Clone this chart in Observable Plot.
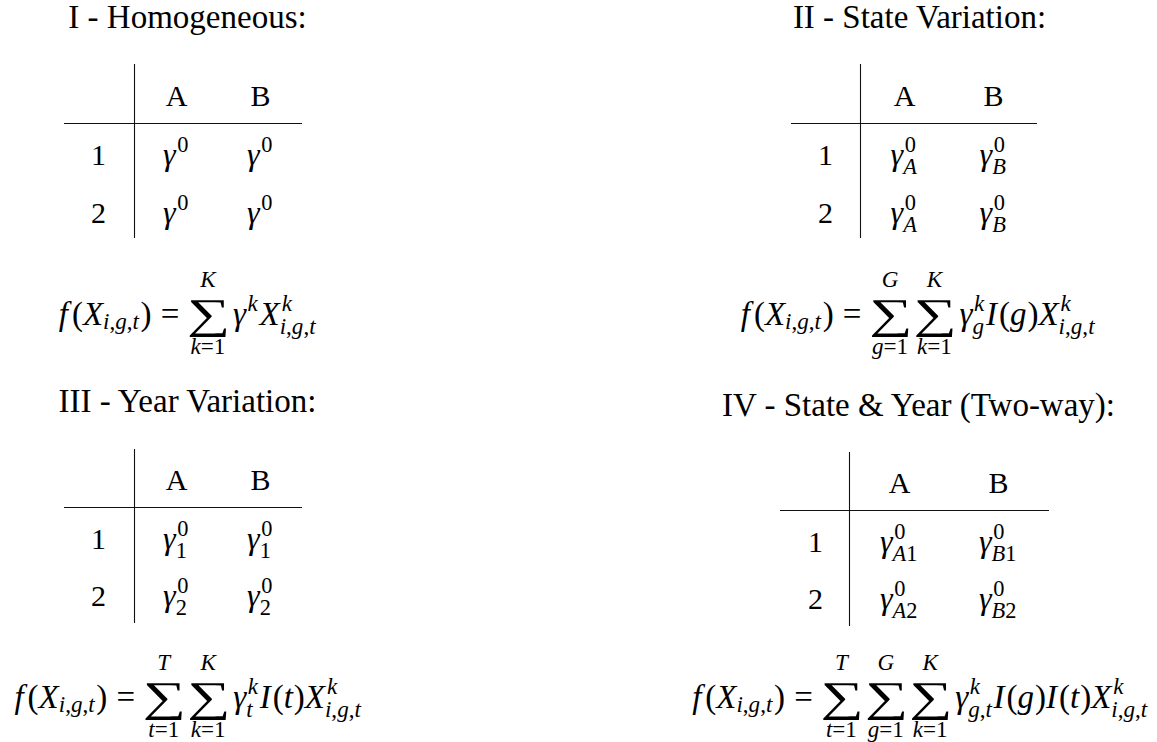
<!DOCTYPE html>
<html><head><meta charset="utf-8">
<script src="https://cdn.jsdelivr.net/npm/d3@7"></script>
<script src="https://cdn.jsdelivr.net/npm/@observablehq/plot@0.6"></script>
<style>html,body{margin:0;padding:0;background:#fff;}</style>
</head><body><div id="chart"></div>
<script>
// ---------------- data ----------------
const panelTitles = ["I - Homogeneous:", "II - State Variation:", "III - Year Variation:", "IV - State & Year (Two-way):"];
const states = ["A", "B"];
const years = ["1", "2"];
const cellsHomogeneous = [["$\\gamma^{0}$", "$\\gamma^{0}$"], ["$\\gamma^{0}$", "$\\gamma^{0}$"]];
const cellsState = [["$\\gamma^{0}_{A}$", "$\\gamma^{0}_{B}$"], ["$\\gamma^{0}_{A}$", "$\\gamma^{0}_{B}$"]];
const cellsYear = [["$\\gamma^{0}_{1}$", "$\\gamma^{0}_{1}$"], ["$\\gamma^{0}_{2}$", "$\\gamma^{0}_{2}$"]];
const cellsTwoWay = [["$\\gamma^{0}_{A1}$", "$\\gamma^{0}_{B1}$"], ["$\\gamma^{0}_{A2}$", "$\\gamma^{0}_{B2}$"]];
const formulas = [
  "$$f(X_{i,g,t}) = \\sum_{k=1}^{K} \\gamma^{k} X^{k}_{i,g,t}$$",
  "$$f(X_{i,g,t}) = \\sum_{g=1}^{G} \\sum_{k=1}^{K} \\gamma^{k}_{g} I(g) X^{k}_{i,g,t}$$",
  "$$f(X_{i,g,t}) = \\sum_{t=1}^{T} \\sum_{k=1}^{K} \\gamma^{k}_{t} I(t) X^{k}_{i,g,t}$$",
  "$$f(X_{i,g,t}) = \\sum_{t=1}^{T} \\sum_{g=1}^{G} \\sum_{k=1}^{K} \\gamma^{k}_{g,t} I(g) I(t) X^{k}_{i,g,t}$$"
];

// ---------------- layout (positions, separate from data) ----------------
const panelLayout = [
  {cx: 187, titleY: 27, vx: 134, vy1: 64, vy2: 238, hy: 123, hx1: 64, hx2: 302, colX: [98, 176, 260], rowY: [105, 164, 222], fcx: 187.5, fy: 324},
  {cx: 919, titleY: 27, vx: 860, vy1: 64, vy2: 238, hy: 123, hx1: 791, hx2: 1037, colX: [825, 904, 993], rowY: [105, 164, 222], fcx: 918, fy: 324},
  {cx: 187, titleY: 411.5, vx: 134, vy1: 449, vy2: 623, hy: 507, hx1: 64, hx2: 302, colX: [98, 176, 260], rowY: [489, 548, 605], fcx: 188, fy: 707},
  {cx: 918, titleY: 415, vx: 849, vy1: 452, vy2: 626, hy: 510, hx1: 780, hx2: 1049, colX: [815, 899, 998], rowY: [492, 551, 608], fcx: 920, fy: 707}
];
const FAMILY = '"Liberation Serif"';
const TITLE_SIZE = 33, TABLE_SIZE = 30, INLINE_SIZE = 32, DISPLAY_SIZE = 33;
const INK = "#111";

const panelCells = [cellsHomogeneous, cellsState, cellsYear, cellsTwoWay];
const titleRows = panelTitles.map((t, p) => ({text: t, x: panelLayout[p].cx, y: panelLayout[p].titleY}));
const headerRows = panelLayout.flatMap(L => states.map((s, c) => ({text: s, x: L.colX[c + 1], y: L.rowY[0]})));
const rowLabelRows = panelLayout.flatMap(L => years.map((yr, r) => ({text: yr, x: L.colX[0], y: L.rowY[r + 1]})));
const cellRows = panelLayout.flatMap((L, p) => panelCells[p].flatMap((row, r) => row.map((v, c) => ({text: v, x: L.colX[c + 1], y: L.rowY[r + 1]}))));
const formulaRows = formulas.map((f, p) => ({text: f, x: panelLayout[p].fcx, y: panelLayout[p].fy}));
const vRules = panelLayout.map(L => ({x: L.vx, y1: L.vy1, y2: L.vy2}));
const hRules = panelLayout.map(L => ({y: L.hy, x1: L.hx1, x2: L.hx2}));

const chart = Plot.plot({
  width: 1157, height: 742, margin: 0,
  x: {domain: [0, 1157], range: [0, 1157], axis: null},
  y: {domain: [0, 742], range: [0, 742], axis: null},
  style: {fontFamily: FAMILY, background: "white", color: "black"},
  marks: [
    Plot.ruleX(vRules, {x: "x", y1: "y1", y2: "y2", stroke: INK, strokeWidth: 1.1}),
    Plot.ruleY(hRules, {y: "y", x1: "x1", x2: "x2", stroke: INK, strokeWidth: 1.1}),
    Plot.text(titleRows, {x: "x", y: "y", text: "text", fontSize: TITLE_SIZE, lineAnchor: "bottom", fill: "black"}),
    Plot.text(headerRows, {x: "x", y: "y", text: "text", fontSize: TABLE_SIZE, lineAnchor: "bottom", fill: "black"}),
    Plot.text(rowLabelRows, {x: "x", y: "y", text: "text", fontSize: TABLE_SIZE, lineAnchor: "bottom", fill: "black"}),
    Plot.text(cellRows, {x: "x", y: "y", text: "text", fontSize: INLINE_SIZE, lineAnchor: "bottom", fill: "black"}),
    Plot.text(formulaRows, {x: "x", y: "y", text: "text", fontSize: DISPLAY_SIZE, lineAnchor: "bottom", fill: "black"})
  ]
});
document.getElementById("chart").append(chart);

// ---------------- tiny math typesetter (turns $...$ texts into tspans) ----------------
const ctx = document.createElement("canvas").getContext("2d");
function meas(t, size, italic) { ctx.font = `${italic ? "italic " : ""}${size}px ${FAMILY}`; return ctx.measureText(t); }
const ITAL = {f: 0.12, X: 0.06, I: 0.06, "γ": 0.05, K: 0.05, G: 0.02, T: 0.08};
function parse(s) {
  const nodes = []; let i = 0;
  const group = () => {
    if (s[i] === "{") { let d = 1, j = i + 1; while (d) { if (s[j] === "{") d++; else if (s[j] === "}") d--; j++; } const g = s.slice(i + 1, j - 1); i = j; return g; }
    return s[i++];
  };
  while (i < s.length) {
    const c = s[i];
    if (c === " ") { i++; continue; }
    if (c === "\\") {
      const m = /^\\([a-zA-Z]+)/.exec(s.slice(i)); i += m[0].length;
      if (m[1] === "sum") nodes.push({kind: "op", text: "∑"});
      else if (m[1] === "gamma") nodes.push({kind: "ord", text: "γ", it: true});
      continue;
    }
    if (c === "_" || c === "^") { i++; const g = group(); nodes[nodes.length - 1][c === "_" ? "sub" : "sup"] = g; continue; }
    if (/[A-Za-z]/.test(c)) nodes.push({kind: "ord", text: c, it: true});
    else if (/[0-9]/.test(c)) nodes.push({kind: "ord", text: c, it: false});
    else if (c === "=") nodes.push({kind: "rel", text: "="});
    else if (c === ",") nodes.push({kind: "punct", text: ","});
    else if (c === "(") nodes.push({kind: "open", text: "("});
    else if (c === ")") nodes.push({kind: "close", text: ")"});
    i++;
  }
  return nodes;
}
function scriptW(str, size) { let w = 0; for (const ch of str) w += meas(ch, size, /[A-Za-z]/.test(ch)).width; return w; }
function scriptRun(str, size, x, y, out) {
  let w = 0;
  for (const ch of str) { const it = /[A-Za-z]/.test(ch); out.push({t: ch, x: x + w, y, size, it}); w += meas(ch, size, it).width; }
  return w;
}
function gap(a, b, S) {
  if (a === "rel" || b === "rel") return 5 * S / 18;
  if (a === "op" && (b === "ord" || b === "op")) return S / 6;
  if ((a === "ord" || a === "close") && b === "op") return S / 6;
  if (a === "punct") return S / 6;
  return 0;
}
function typeset(src, S, display) {
  const nodes = parse(src), out = [];
  let x = 0, prev = null;
  const ss = 0.7 * S;
  for (const n of nodes) {
    if (prev) x += gap(prev.kind, n.kind, S);
    if (n.kind === "op") {
      // big operator: ink box about 1.12 S wide, 1.12 S tall, top at -0.72 S
      const ref = meas("∑", 100, false);
      const inkH = ref.actualBoundingBoxAscent + ref.actualBoundingBoxDescent;
      const wantH = 1.12 * S, wantW = 1.12 * S;
      const size = 100 * wantH / inkH, k = size / 100;
      const asc = ref.actualBoundingBoxAscent * k, left = ref.actualBoundingBoxLeft * k, right = ref.actualBoundingBoxRight * k;
      const inkW = left + right;
      const f = wantW / inkW;
      const top = -0.72 * S;
      const up = n.sup ? scriptW(n.sup, ss) : 0, lo = n.sub ? scriptW(n.sub, ss) : 0;
      const boxW = Math.max(wantW + 0.06 * S, up, lo);
      const cx = x + boxW / 2;
      out.push({t: "∑", x: cx - wantW / 2 + left * f, y: top + asc, size, it: false, sx: f});
      if (n.sup) scriptRun(n.sup, ss, cx - up / 2, -1.13 * S, out);
      if (n.sub) scriptRun(n.sub, ss, cx - lo / 2, 0.9 * S, out);
      x += boxW;
    } else {
      const m = meas(n.text, S, n.it).width;
      out.push({t: n.text, x, y: 0, size: S, it: n.it});
      const d = n.it ? (ITAL[n.text] ?? 0.03) * S : 0;
      let w;
      if (n.sup || n.sub) {
        const both = n.sup && n.sub;
        const supUp = (display ? 0.42 : 0.38) * S;
        const subDn = (both ? 0.3 : 0.15) * S;
        let sw = 0, bw = 0;
        if (n.sub) bw = scriptRun(n.sub, ss, x + m, subDn, out);
        if (n.sup) sw = scriptRun(n.sup, ss, x + m + d, -supUp, out);
        w = m + Math.max(n.sup ? sw + d : 0, bw) + 0.05 * S;
      } else w = m + d;
      x += w;
    }
    prev = n;
  }
  return {out, width: x};
}
const NS = "http://www.w3.org/2000/svg";
chart.querySelectorAll("text").forEach(el => {
  const s = el.textContent;
  if (!s.startsWith("$")) return;
  const display = s.startsWith("$$");
  const src = s.replace(/^\$+|\$+$/g, "");
  const S = display ? DISPLAY_SIZE : INLINE_SIZE;
  const {out, width} = typeset(src, S, display);
  const base = el.getAttribute("transform") || "";
  el.textContent = "";
  el.setAttribute("text-anchor", "start");
  el.removeAttribute("y");
  for (const p of out) {
    const px = (p.x - width / 2).toFixed(2), py = p.y.toFixed(2);
    if (p.sx) {
      // wide summation sign: its own text element, stretched horizontally
      const t2 = document.createElementNS(NS, "text");
      t2.setAttribute("transform", `${base} translate(${px},${py}) scale(${p.sx.toFixed(3)},1)`);
      t2.setAttribute("font-size", p.size.toFixed(2));
      t2.setAttribute("text-anchor", "start");
      t2.textContent = p.t;
      el.parentNode.appendChild(t2);
      continue;
    }
    const ts = document.createElementNS(NS, "tspan");
    ts.setAttribute("x", px);
    ts.setAttribute("y", py);
    ts.setAttribute("font-size", p.size.toFixed(2));
    if (p.it) ts.setAttribute("font-style", "italic");
    ts.textContent = p.t;
    el.appendChild(ts);
  }
});
</script>
</body></html>
